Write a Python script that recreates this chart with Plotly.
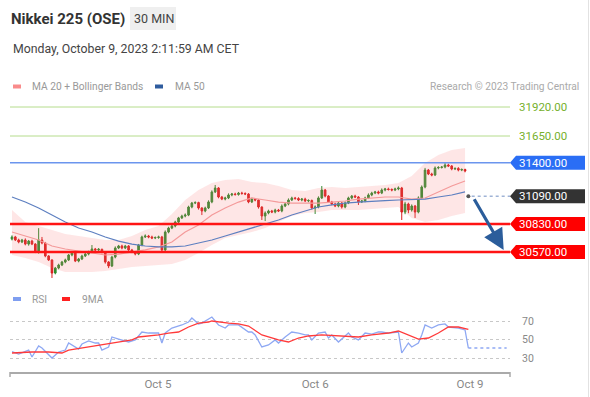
import plotly.graph_objects as go

W, H = 590, 397

# ---------------- data ----------------
first_open = 30690
closes = [
    30710, 30682, 30663, 30682, 30644, 30672, 30644, 30570, 30682, 30654,
    30533, 30496, 30374, 30421, 30449, 30477, 30496, 30542, 30570, 30486,
    30505, 30533, 30551, 30570, 30598, 30589, 30595, 30570, 30477, 30440,
    30523, 30607, 30626, 30607, 30626, 30589, 30570, 30551, 30635, 30710,
    30719, 30710, 30700, 30705, 30710, 30589, 30756, 30793, 30812, 30849,
    30887, 30905, 30914, 30989, 31026, 31030, 30980, 30952, 30980, 31036,
    31129, 31166, 31082, 31063, 31073, 31101, 31110, 31105, 31119, 31115,
    31110, 31036, 31063, 31054, 30989, 30905, 30933, 30952, 30942, 30961,
    30952, 30998, 31017, 31054, 31073, 31068, 31054, 31063, 31045, 31050,
    30980, 30989, 31073, 31147, 31091, 31036, 31017, 30998, 31026, 30989,
    31026, 31073, 31091, 31082, 31036, 31045, 31073, 31101, 31119, 31129,
    31119, 31147, 31157, 31152, 31147, 31157, 31166, 30942, 31017, 30961,
    30998, 30942, 31073, 31175, 31333, 31296, 31287, 31352, 31357, 31361,
    31380, 31371, 31343, 31348, 31333, 31338, 31324,
]
wick_hi = [
    15, 10, 12, 10, 15, 10, 12, 8, 110, 28,
    10, 8, 6, 10, 12, 10, 12, 10, 8, 6,
    10, 12, 10, 12, 37, 10, 12, 6, 6, 8,
    12, 15, 10, 12, 10, 8, 10, 6, 10, 12,
    15, 10, 12, 10, 12, 10, 15, 12, 10, 12,
    10, 12, 15, 12, 10, 12, 8, 6, 12, 15,
    15, 28, 8, 10, 12, 15, 10, 12, 10, 12,
    10, 8, 12, 10, 6, 6, 15, 12, 10, 12,
    10, 15, 12, 15, 12, 10, 12, 10, 12, 10,
    8, 15, 15, 37, 10, 8, 10, 12, 10, 8,
    15, 12, 10, 12, 8, 10, 12, 15, 12, 10,
    12, 15, 10, 12, 10, 12, 15, 10, 20, 12,
    15, 10, 15, 15, 20, 10, 12, 15, 12, 10,
    19, 12, 8, 10, 12, 10, 8,
]
wick_lo = [
    12, 10, 12, 10, 12, 15, 10, 10, 15, 12,
    12, 10, 46, 12, 12, 10, 12, 10, 12, 10,
    12, 10, 10, 12, 10, 12, 10, 12, 15, 20,
    10, 12, 10, 12, 10, 12, 10, 12, 10, 12,
    10, 12, 10, 10, 12, 19, 10, 12, 10, 12,
    12, 10, 12, 10, 12, 10, 15, 38, 12, 10,
    12, 10, 12, 10, 12, 10, 12, 10, 10, 12,
    10, 12, 10, 12, 15, 37, 47, 12, 10, 12,
    10, 12, 10, 12, 10, 12, 10, 12, 10, 12,
    15, 56, 12, 10, 12, 10, 12, 10, 12, 15,
    12, 10, 12, 10, 28, 10, 12, 10, 12, 10,
    12, 10, 12, 10, 12, 10, 12, 74, 20, 30,
    15, 55, 12, 10, 12, 10, 12, 10, 12, 10,
    12, 10, 12, 10, 12, 10, 12,
]

band_idx = [0, 4, 8, 12, 16, 20, 24, 28, 32, 36, 40, 44, 48, 52, 56, 60, 64, 68,
            72, 76, 80, 84, 88, 92, 96, 100, 104, 108, 112, 116, 120, 124, 128,
            132, 136]
ma50 = [31082, 31035, 30980, 30914, 30849, 30793, 30756, 30710, 30672, 30644,
        30626, 30617, 30617, 30626, 30654, 30682, 30719, 30756, 30793, 30831,
        30868, 30914, 30952, 30989, 31008, 31026, 31035, 31045, 31049, 31054,
        31059, 31063, 31082, 31101, 31129]
ma20 = [30756, 30719, 30682, 30626, 30598, 30579, 30561, 30542, 30551, 30570,
        30589, 30617, 30663, 30756, 30821, 30914, 30980, 31035, 31073, 31054,
        31035, 31026, 31026, 31026, 31035, 31045, 31063, 31073, 31082, 31082,
        31063, 31073, 31129, 31184, 31231]
bb_upper = [30961, 30849, 30812, 30775, 30738, 30719, 30700, 30682, 30682, 30719,
            30775, 30812, 30924, 31054, 31147, 31212, 31240, 31250, 31222, 31212,
            31184, 31147, 31138, 31166, 31175, 31166, 31175, 31184, 31194, 31212,
            31278, 31399, 31473, 31520, 31538]
bb_lower = [30542, 30514, 30477, 30421, 30384, 30384, 30384, 30393, 30412, 30430,
            30440, 30449, 30458, 30496, 30561, 30635, 30700, 30728, 30756, 30793,
            30849, 30905, 30933, 30942, 30961, 30961, 30961, 30970, 30980, 30989,
            30887, 30849, 30868, 30905, 30933]

rsi_idx = [0, 2, 5, 6, 8, 9, 12, 14, 16, 17, 20, 21, 23, 25, 26, 27, 29, 30, 32, 35,
           37, 39, 41, 44, 45, 46, 48, 51, 53, 54, 56, 57, 60, 62, 64, 65, 68, 71, 72, 73,
           75, 77, 79, 80, 82, 84, 86, 88, 89, 90, 92, 94, 95, 96, 98, 101, 102, 104, 106, 108,
           110, 111, 113, 116, 117, 119, 120, 122, 123, 124, 126, 128, 130, 131, 134, 136, 137]
rsi_val = [36.8, 34.3, 38.6, 31.1, 43.0, 40.8, 30.0, 36.5, 38.6, 46.2,
           39.7, 45.1, 48.4, 46.2, 46.2, 38.6, 41.9, 52.7, 50.5, 47.3,
           49.5, 58.1, 57.0, 57.0, 46.2, 57.0, 62.4, 65.7, 68.9, 73.2,
           66.8, 67.8, 74.3, 65.7, 62.4, 65.7, 65.7, 58.1, 58.1, 54.9,
           41.9, 44.1, 49.5, 46.2, 52.7, 58.1, 57.0, 54.9, 54.9, 49.5,
           57.0, 58.1, 51.6, 54.9, 47.3, 57.0, 52.7, 49.5, 57.0, 55.9,
           58.1, 58.1, 57.0, 58.1, 35.4, 46.2, 41.9, 46.2, 54.9, 65.7,
           62.4, 65.7, 66.8, 63.5, 62.4, 60.3, 40.8]
ma9_idx = [0, 6, 11, 15, 17, 21, 26, 30, 36, 38, 44, 47, 50, 53, 56, 59, 60, 65, 68, 71,
           72, 75, 80, 83, 86, 89, 93, 98, 104, 108, 113, 116, 122, 125, 128, 131, 134, 137]
ma9_val = [35.4, 36.5, 36.5, 35.4, 38.6, 40.8, 44.1, 46.2, 49.5, 52.7,
           54.9, 57.0, 58.1, 63.5, 67.8, 68.9, 70.0, 67.8, 66.8, 64.6,
           62.4, 54.9, 49.5, 47.3, 51.6, 53.8, 54.9, 53.8, 52.7, 54.9,
           57.0, 59.2, 50.5, 51.6, 57.0, 63.5, 63.5, 61.0]

resistances = [31920, 31650]
level_blue = 31400
pivot = 31090
supports = [30830, 30570]
target = 30589
pivot_idx = 137
rsi_levels = [30, 50, 70]
date_ticks = [43.8, 91.0, 137.5]
date_labels = ["Oct 5", "Oct 6", "Oct 9"]

# ---------------- derived OHLC ----------------
opens = [first_open] + closes[:-1]
highs = [max(o, c) + w for o, c, w in zip(opens, closes, wick_hi)]
lows = [min(o, c) - w for o, c, w in zip(opens, closes, wick_lo)]
bar_idx = list(range(len(closes)))

FONT = "Roboto, Arial, sans-serif"


def px(x):
    return x / W


def py(y):
    return 1 - y / H


XDOM = [px(10), px(510)]
XRANGE = [-0.6, 149.5]

fig = go.Figure()

# Bollinger band
fig.add_trace(go.Scatter(x=band_idx, y=bb_upper, mode="lines", line=dict(width=0),
                         hoverinfo="skip", showlegend=False))
fig.add_trace(go.Scatter(x=band_idx, y=bb_lower, mode="lines", line=dict(width=0),
                         fill="tonexty", fillcolor="rgba(250,115,115,0.18)",
                         hoverinfo="skip", showlegend=False))
fig.add_trace(go.Scatter(x=band_idx, y=ma20, mode="lines",
                         line=dict(color="#f49a9a", width=1.2), showlegend=False))
fig.add_trace(go.Scatter(x=band_idx, y=ma50, mode="lines",
                         line=dict(color="#5d7fc0", width=1.2), showlegend=False))

fig.add_trace(go.Candlestick(
    x=bar_idx, open=opens, high=highs, low=lows, close=closes,
    increasing=dict(line=dict(color="#2e8b2e", width=1), fillcolor="#2e8b2e"),
    decreasing=dict(line=dict(color="#d81e1e", width=1), fillcolor="#d81e1e"),
    whiskerwidth=0, showlegend=False))

fig.add_trace(go.Scatter(x=[pivot_idx], y=[pivot], mode="markers",
                         marker=dict(size=4, color="#555"), showlegend=False))

# RSI panel
fig.add_trace(go.Scatter(x=rsi_idx, y=rsi_val, mode="lines", xaxis="x2", yaxis="y2",
                         line=dict(color="#8ea8f3", width=1.3), showlegend=False))
fig.add_trace(go.Scatter(x=ma9_idx, y=ma9_val, mode="lines", xaxis="x2", yaxis="y2",
                         line=dict(color="#ff3a3a", width=1.3), showlegend=False))
fig.add_trace(go.Scatter(x=[rsi_idx[-1], XRANGE[1] - 1], y=[rsi_val[-1], rsi_val[-1]],
                         mode="lines", xaxis="x2", yaxis="y2",
                         line=dict(color="#8ea8f3", width=1.3, dash="dot"),
                         showlegend=False))

shapes = []
annotations = []

# level lines
for lv in resistances:
    shapes.append(dict(type="line", xref="x domain", x0=0, x1=1, yref="y", y0=lv, y1=lv,
                       line=dict(color="#b5dc8c", width=1)))
    annotations.append(dict(text=f"{lv:.2f}", xref="paper", x=px(517), xanchor="left",
                            yref="y", y=lv, yanchor="middle", showarrow=False,
                            font=dict(color="#76b02c", size=11.5, family=FONT)))
shapes.append(dict(type="line", xref="x domain", x0=0, x1=1, yref="y", y0=level_blue,
                   y1=level_blue, line=dict(color="#6b95ee", width=1.5)))
for lv in supports:
    shapes.append(dict(type="line", xref="x domain", x0=0, x1=1, yref="y", y0=lv, y1=lv,
                       line=dict(color="#ff1414", width=2.5)))
shapes.append(dict(type="line", xref="x", x0=pivot_idx + 1, x1=XRANGE[1], yref="y",
                   y0=pivot, y1=pivot, line=dict(color="#9fb3d6", width=1.5, dash="dot")))

# label boxes
for lv, col in [(level_blue, "#2a6ef5"), (pivot, "#333333"),
                (supports[0], "#ff0000"), (supports[1], "#ff0000")]:
    shapes.append(dict(type="path", xref="paper", xsizemode="pixel", xanchor=px(510),
                       yref="y", ysizemode="pixel", yanchor=lv,
                       path="M0,0 L6,7 L75,7 L75,-7 L6,-7 Z",
                       fillcolor=col, line=dict(width=0)))
    annotations.append(dict(text=f"{lv:.2f}", xref="paper", x=px(517), xanchor="left",
                            yref="y", y=lv, yanchor="middle", showarrow=False,
                            font=dict(color="white", size=11.5, family=FONT)))

# forecast arrow
annotations.append(dict(text="", x=147.6, y=target, xref="x", yref="y",
                        ax=pivot_idx + 1.5, ay=pivot - 15, axref="x", ayref="y",
                        showarrow=True, arrowhead=2, arrowsize=1.3, arrowwidth=3.2,
                        arrowcolor="#2b5d9b"))

# header
shapes.append(dict(type="rect", xref="paper", yref="paper", x0=px(130), x1=px(176),
                   y0=py(30), y1=py(7), fillcolor="#efefef", line=dict(width=0)))
annotations += [
    dict(text="<b>Nikkei 225 (OSE)</b>", xref="paper", yref="paper", x=px(9), y=py(19),
         xanchor="left", yanchor="middle", showarrow=False,
         font=dict(size=15, color="#333", family=FONT)),
    dict(text="30 MIN", xref="paper", yref="paper", x=px(154), y=py(19),
         xanchor="center", yanchor="middle", showarrow=False,
         font=dict(size=12.5, color="#444", family=FONT)),
    dict(text="Monday, October 9, 2023 2:11:59 AM CET", xref="paper", yref="paper",
         x=px(11), y=py(49), xanchor="left", yanchor="middle", showarrow=False,
         font=dict(size=12.3, color="#444", family=FONT)),
    dict(text="MA 20 + Bollinger Bands", xref="paper", yref="paper", x=px(30), y=py(86.5),
         xanchor="left", yanchor="middle", showarrow=False,
         font=dict(size=10.2, color="#999", family=FONT)),
    dict(text="MA 50", xref="paper", yref="paper", x=px(173), y=py(86.5),
         xanchor="left", yanchor="middle", showarrow=False,
         font=dict(size=10.2, color="#999", family=FONT)),
    dict(text="Research © 2023 Trading Central", xref="paper", yref="paper", x=px(581),
         y=py(86.5), xanchor="right", yanchor="middle", showarrow=False,
         font=dict(size=10.2, color="#aaa", family=FONT)),
    dict(text="RSI", xref="paper", yref="paper", x=px(30), y=py(299),
         xanchor="left", yanchor="middle", showarrow=False,
         font=dict(size=10.2, color="#999", family=FONT)),
    dict(text="9MA", xref="paper", yref="paper", x=px(80), y=py(299),
         xanchor="left", yanchor="middle", showarrow=False,
         font=dict(size=10.2, color="#999", family=FONT)),
]
for x0, x1, yc, col in [(13, 21, 86.5, "#f98b8b"), (155, 163, 86.5, "#2f5c9e"),
                        (13, 21, 299, "#7f9ef0"), (62, 70, 299, "#ff2020")]:
    shapes.append(dict(type="rect", xref="paper", yref="paper", x0=px(x0), x1=px(x1),
                       y0=py(yc + 2), y1=py(yc - 2), fillcolor=col, line=dict(width=0)))

# x-axis end ticks
for xe in [10, 510]:
    shapes.append(dict(type="line", xref="paper", yref="paper", x0=px(xe), x1=px(xe),
                       y0=py(372), y1=py(377), line=dict(color="#aaa", width=1.5)))
# right frame edge
shapes.append(dict(type="line", xref="paper", yref="paper", x0=px(588.5), x1=px(588.5),
                   y0=0, y1=1, line=dict(color="#e2e2e2", width=1)))

fig.update_layout(
    width=W, height=H, margin=dict(l=0, r=0, t=0, b=0),
    paper_bgcolor="white", plot_bgcolor="white",
    font=dict(family=FONT),
    showlegend=False,
    xaxis=dict(domain=XDOM, range=XRANGE, anchor="y", visible=False,
               rangeslider=dict(visible=False), fixedrange=True),
    yaxis=dict(domain=[py(290), py(95)], range=[30216.2, 32031.8], anchor="x",
               visible=False),
    xaxis2=dict(domain=XDOM, range=XRANGE, anchor="y2", showline=True,
                linecolor="#aaa", linewidth=1.5, tickvals=date_ticks,
                ticktext=date_labels, ticks="", showgrid=False, zeroline=False,
                tickfont=dict(size=11.5, color="#888", family=FONT)),
    yaxis2=dict(domain=[py(372), py(300)], range=[14.86, 92.7], anchor="x2",
                side="right", tickvals=rsi_levels, showgrid=True, griddash="dot",
                gridcolor="#c8c8c8", gridwidth=1, zeroline=False, showline=False,
                ticks="outside", ticklen=9, tickcolor="rgba(0,0,0,0)",
                tickfont=dict(size=10.5, color="#888", family=FONT)),
    shapes=shapes, annotations=annotations,
)

fig.write_html(
    "out.html",
    config={"displayModeBar": False},
    post_script="document.body.style.margin='0';document.body.style.overflow='hidden';",
)
